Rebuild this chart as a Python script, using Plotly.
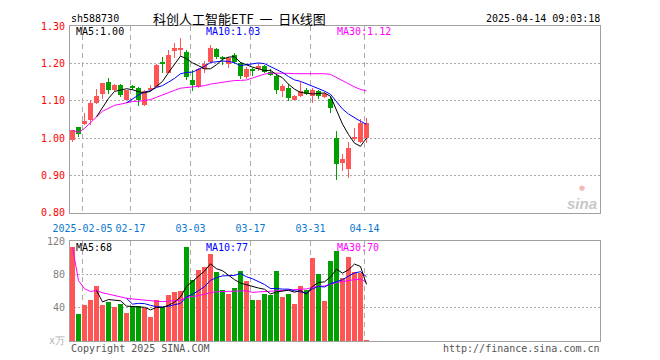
import math
import pandas as pd
import plotly.graph_objects as go

# ---------------- data ----------------
dates = ["2025-01-24", "2025-01-27", "2025-02-05", "2025-02-06", "2025-02-07", "2025-02-10",
         "2025-02-11", "2025-02-12", "2025-02-13", "2025-02-14", "2025-02-17", "2025-02-18",
         "2025-02-19", "2025-02-20", "2025-02-21", "2025-02-24", "2025-02-25", "2025-02-26",
         "2025-02-27", "2025-02-28", "2025-03-03", "2025-03-04", "2025-03-05", "2025-03-06",
         "2025-03-07", "2025-03-10", "2025-03-11", "2025-03-12", "2025-03-13", "2025-03-14",
         "2025-03-17", "2025-03-18", "2025-03-19", "2025-03-20", "2025-03-21", "2025-03-24",
         "2025-03-25", "2025-03-26", "2025-03-27", "2025-03-28", "2025-03-31", "2025-04-01",
         "2025-04-02", "2025-04-03", "2025-04-07", "2025-04-08", "2025-04-09", "2025-04-10",
         "2025-04-11", "2025-04-14"]

opens = [0.995, 1.029, 1.038, 1.049, 1.093, 1.117, 1.151, 1.128, 1.142, 1.103,
         1.140, 1.135, 1.088, 1.128, 1.138, 1.205, 1.175, 1.235, 1.238, 1.230,
         1.156, 1.137, 1.185, 1.203, 1.239, 1.216, 1.198, 1.223, 1.200, 1.163,
         1.184, 1.184, 1.193, 1.177, 1.165, 1.125, 1.135, 1.103, 1.112, 1.130,
         1.114, 1.126, 1.111, 1.104, 1.000, 0.933, 0.918, 0.999, 0.990, 1.000]
highs = [1.022, 1.029, 1.067, 1.101, 1.132, 1.147, 1.162, 1.144, 1.144, 1.130,
         1.142, 1.138, 1.130, 1.141, 1.198, 1.216, 1.235, 1.255, 1.267, 1.236,
         1.181, 1.187, 1.207, 1.248, 1.241, 1.220, 1.218, 1.228, 1.203, 1.191,
         1.189, 1.200, 1.196, 1.186, 1.172, 1.146, 1.146, 1.115, 1.149, 1.133,
         1.133, 1.130, 1.123, 1.112, 1.019, 0.958, 0.990, 1.027, 1.050, 1.053]
lows = [0.991, 1.002, 1.036, 1.036, 1.091, 1.106, 1.119, 1.126, 1.109, 1.102,
        1.128, 1.086, 1.085, 1.128, 1.137, 1.174, 1.174, 1.214, 1.219, 1.156,
        1.126, 1.135, 1.174, 1.200, 1.211, 1.195, 1.189, 1.198, 1.158, 1.158,
        1.165, 1.179, 1.175, 1.167, 1.118, 1.111, 1.100, 1.101, 1.109, 1.115,
        1.093, 1.106, 1.108, 1.068, 0.887, 0.912, 0.894, 0.992, 0.987, 0.988]
closes = [1.021, 1.010, 1.047, 1.093, 1.114, 1.147, 1.130, 1.141, 1.115, 1.128,
          1.134, 1.103, 1.126, 1.135, 1.196, 1.198, 1.223, 1.240, 1.240, 1.163,
          1.141, 1.185, 1.198, 1.241, 1.217, 1.214, 1.214, 1.203, 1.165, 1.185,
          1.182, 1.193, 1.178, 1.169, 1.128, 1.139, 1.107, 1.112, 1.126, 1.118,
          1.128, 1.114, 1.118, 1.082, 0.930, 0.944, 0.975, 1.002, 1.040, 1.040]
volumes = [112.7, 32.7, 43.4, 49.4, 66.1, 43.4, 47.0, 41.0, 44.6, 33.9,
           42.2, 42.2, 39.8, 29.1, 49.4, 41.0, 55.4, 59.0, 60.2, 112.7,
           73.3, 85.3, 88.8, 104.4, 82.9, 61.4, 56.6, 63.7, 84.0, 72.1,
           49.4, 49.4, 56.6, 55.4, 84.0, 53.0, 56.6, 44.6, 66.1, 61.4,
           99.6, 80.5, 48.2, 96.0, 108.0, 75.7, 100.5, 82.5, 81.7, 0.3]

tick_dates = ["2025-02-05", "2025-02-17", "2025-03-03", "2025-03-17", "2025-03-31", "2025-04-14"]
tick_labels = ["2025-02-05", "02-17", "03-03", "03-17", "03-31", "04-14"]
price_ticks = [0.80, 0.90, 1.00, 1.10, 1.20, 1.30]
vol_ticks = [0, 40, 80, 120]
vol_tick_labels = ["<span style='color:#b0b0b0'>x万</span>", "40", "80", "120"]

# ---------------- styles ----------------
RED = "#ff5555"
GREEN = "#00a000"
MONO = "DejaVu Sans Mono"
CJK = "Noto Sans CJK SC"

x = list(range(len(dates)))
colors = [RED if c >= o else GREEN for o, c in zip(opens, closes)]
body_base = [min(o, c) for o, c in zip(opens, closes)]
body_h = [max(abs(c - o), 0.0027) for o, c in zip(opens, closes)]
wick_h = [h - l for h, l in zip(highs, lows)]

cs = pd.Series(closes)
ma5 = cs.rolling(5).mean()
ma10 = cs.rolling(10).mean()
ma30 = cs.rolling(30, min_periods=1).mean()
vs = pd.Series(volumes)
vma5 = vs.rolling(5).mean()
vma10 = vs.rolling(10).mean()
vma30 = vs.rolling(30, min_periods=1).mean()


def trunc2(v):
    return f"{math.floor(v * 100 + 1e-9) / 100:.2f}"


fig = go.Figure()

fig.add_trace(go.Bar(x=x, y=wick_h, base=lows, width=1 / 6, marker=dict(color=colors, line=dict(width=0)),
                     xaxis="x", yaxis="y", hoverinfo="skip"))
fig.add_trace(go.Bar(x=x, y=body_h, base=body_base, width=5 / 6, marker=dict(color=colors, line=dict(width=0)),
                     xaxis="x", yaxis="y", hoverinfo="skip"))
for s, col in [(ma30, "#ff00ff"), (ma10, "#0000ff"), (ma5, "#000000")]:
    fig.add_trace(go.Scatter(x=x, y=s, mode="lines", line=dict(color=col, width=1),
                             xaxis="x", yaxis="y", hoverinfo="skip"))

fig.add_trace(go.Bar(x=x, y=volumes, width=5 / 6, marker=dict(color=colors, line=dict(width=0)),
                     xaxis="x2", yaxis="y2", hoverinfo="skip"))
for s, col in [(vma30, "#ff00ff"), (vma10, "#0000ff"), (vma5, "#000000")]:
    fig.add_trace(go.Scatter(x=x, y=s, mode="lines", line=dict(color=col, width=1),
                             xaxis="x2", yaxis="y2", hoverinfo="skip"))

tickvals = [dates.index(d) - 1 / 3 for d in tick_dates]
xr = [-2.5 / 6, 527.5 / 6]
GRID = "#aaaaaa"
BORDER = "#a0a0a0"

common_x = dict(range=xr, showline=True, mirror=True, linecolor=BORDER, linewidth=1,
                showgrid=True, gridcolor=GRID, griddash="5px,4px", gridwidth=1,
                tickvals=tickvals, zeroline=False, fixedrange=True)

# page pixel layout (the page body adds an 8px offset to the figure)
OFF = 8
PLOT_L, PLOT_R, PLOT_T, PLOT_B = 70, 600, 22, 341   # page pixels
PRICE_BOTTOM, VOL_TOP = 211.3, 240
W, Hh = 660 - OFF, 360 - OFF
L, T = PLOT_L - OFF, PLOT_T - OFF
R, B = W - (PLOT_R - OFF), Hh - (PLOT_B - OFF)
PW, PH = PLOT_R - PLOT_L, PLOT_B - PLOT_T

fig.update_layout(
    width=W, height=Hh,
    margin=dict(l=L, r=R, t=T, b=B, pad=0),
    paper_bgcolor="white", plot_bgcolor="white",
    showlegend=False, barmode="overlay", bargap=0,
    xaxis=dict(**common_x, anchor="y", ticktext=tick_labels, ticks="outside", ticklen=6,
               tickcolor="rgba(0,0,0,0)", tickfont=dict(family=MONO, size=10, color="#0a78d0")),
    xaxis2=dict(**common_x, anchor="y2", showticklabels=False, matches="x"),
    yaxis=dict(domain=[(PLOT_B - PRICE_BOTTOM) / PH, 1], range=[0.80, 1.30], tickvals=price_ticks,
               ticktext=[f"{t:.2f}" for t in price_ticks], showline=True, mirror=True,
               linecolor=BORDER, linewidth=1, showgrid=True, gridcolor=GRID, griddash="2px,2px",
               zeroline=False, ticks="outside", ticklen=2, tickcolor="rgba(0,0,0,0)",
               tickfont=dict(family=MONO, size=10, color="#ff0000"), fixedrange=True),
    yaxis2=dict(domain=[0, (PLOT_B - VOL_TOP) / PH], range=[0, 120], tickvals=vol_ticks,
                ticktext=vol_tick_labels, showline=True, mirror=True, linecolor=BORDER, linewidth=1,
                showgrid=True, gridcolor=GRID, griddash="2px,2px", zeroline=False, ticks="outside",
                ticklen=2, tickcolor="rgba(0,0,0,0)",
                tickfont=dict(family=MONO, size=10, color="#808080"), fixedrange=True),
)

ann = []


def txt(text, xpx, ypx, color="#000", size=10, family=MONO, xanchor="left"):
    ann.append(dict(text=text, x=(xpx - PLOT_L) / PW, y=(PLOT_B - ypx) / PH, xref="paper", yref="paper",
                    xanchor=xanchor, yanchor="middle", showarrow=False,
                    font=dict(family=family, size=size, color=color)))


txt("sh588730", 69, 14)
txt("科创人工智能ETF  一  日K线图", 239, 14, size=13, family=CJK, xanchor="center")
txt("2025-04-14 09:03:18", 602, 14, xanchor="right")
txt(f"MA5:{trunc2(ma5.iloc[-1])}", 74, 28)
txt(f"MA10:{trunc2(ma10.iloc[-1])}", 204, 28, color="#0000ff")
txt(f"MA30:{trunc2(ma30.iloc[-1])}", 335, 28, color="#ff00ff")
txt(f"MA5:{int(math.floor(vma5.iloc[-1]))}", 74, 246)
txt(f"MA10:{int(math.floor(vma10.iloc[-1]))}", 204, 246, color="#0000ff")
txt(f"MA30:{int(math.floor(vma30.iloc[-1]))}", 335, 246, color="#ff00ff")
txt("Copyright 2025 SINA.COM", 69, 349, color="#555555")
txt("http://finance.sina.com.cn", 602, 349, color="#555555", xanchor="right")
txt("●", 582, 186, color="#f5b8b8", size=7, family="DejaVu Sans", xanchor="center")
txt("<b><i>sina</i></b>", 599, 202, color="#c8c8c8", size=15, family="Liberation Sans", xanchor="right")

fig.update_layout(annotations=ann)

fig.write_html("out.html")
